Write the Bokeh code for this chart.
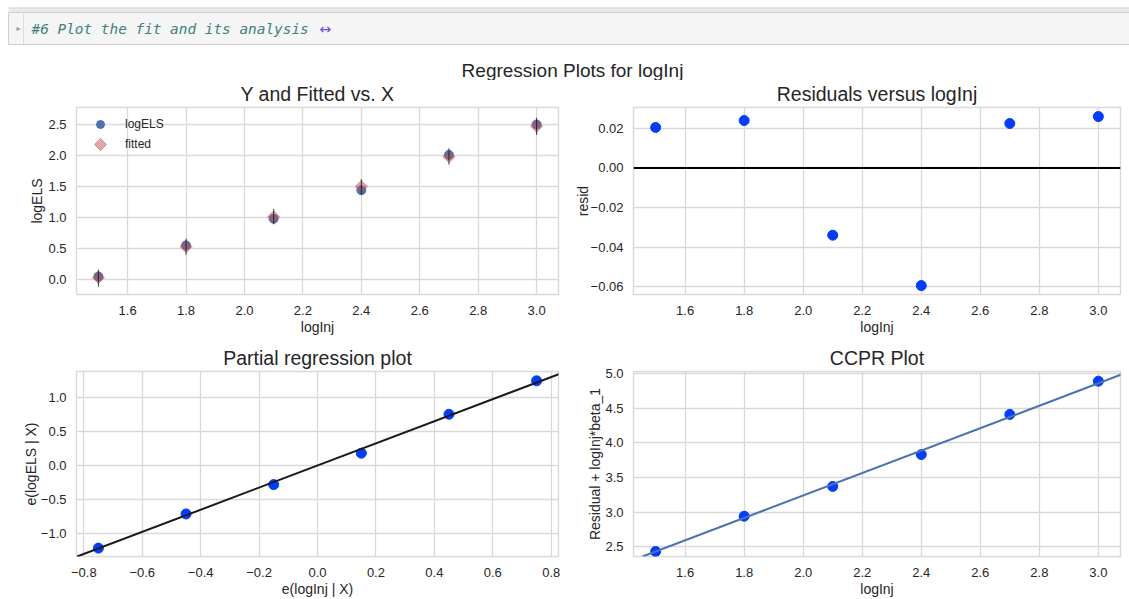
import numpy as np
from bokeh.plotting import figure
from bokeh.models import (Range1d, FixedTicker, Slope, Span, Legend, LegendItem,
                          CustomJSTickFormatter)
from bokeh.layouts import column, row
from bokeh.core.properties import value
from bokeh.embed import file_html
from bokeh.resources import INLINE

# ---------------- data ----------------
logInj = [1.5, 1.8, 2.1, 2.4, 2.7, 3.0]
logELS = [0.05, 0.55, 0.98, 1.44, 2.01, 2.50]
fitted = [0.03, 0.53, 1.01, 1.50, 1.98, 2.47]
pred_low = [-0.12, 0.40, 0.89, 1.37, 1.85, 2.33]
pred_high = [0.16, 0.66, 1.14, 1.62, 2.12, 2.61]
resid = [0.0205, 0.0240, -0.0340, -0.0595, 0.0225, 0.0260]
partial_x = [-0.75, -0.45, -0.15, 0.15, 0.45, 0.75]
partial_y = [-1.21, -0.71, -0.28, 0.18, 0.75, 1.24]
ccpr_y = [2.43, 2.94, 3.37, 3.83, 4.41, 4.89]
beta_1 = 1.62

xticks_inj = [1.6, 1.8, 2.0, 2.2, 2.4, 2.6, 2.8, 3.0]
yticks_els = [0.0, 0.5, 1.0, 1.5, 2.0, 2.5]
yticks_resid = [-0.06, -0.04, -0.02, 0.0, 0.02]
xticks_part = [-0.8, -0.6, -0.4, -0.2, 0.0, 0.2, 0.4, 0.6, 0.8]
yticks_part = [-1.0, -0.5, 0.0, 0.5, 1.0]
yticks_ccpr = [2.5, 3.0, 3.5, 4.0, 4.5, 5.0]

legend_labels = ["logELS", "fitted"]
suptitle = "Regression Plots for logInj"
cell_text = "#6 Plot the fit and its analysis"

# ---------------- styles ----------------
FONT = "Liberation Sans"
TXT = "#262626"
GRID = "#d9d9d9"
BLUE = "#003dff"
SBLUE = "#4C72B0"
SRED = "#C44E52"


def fmt(d):
    return CustomJSTickFormatter(code="return tick.toFixed(%d).replace('-', '\\u2212');" % d)


def make_fig(width, height, bl, br, bt, bb, xr, yr, title, xlabel, ylabel,
             xticks, xd, yticks, yd, ylab_standoff=0):
    p = figure(width=width, height=height, x_range=Range1d(*xr), y_range=Range1d(*yr),
               output_backend="svg", toolbar_location=None, title=title,
               min_border_left=bl, min_border_right=br, min_border_top=bt,
               min_border_bottom=bb)
    p.background_fill_color = "white"
    p.border_fill_color = "white"
    p.outline_line_color = GRID
    p.outline_line_width = 1.4
    p.title.align = "center"
    p.title.vertical_align = "top"
    p.title.text_font = FONT
    p.title.text_font_size = "19.5px"
    p.title.text_font_style = "normal"
    p.title.text_color = TXT
    p.title.standoff = 2
    for ax, ticks, d, lab in ((p.xaxis[0], xticks, xd, xlabel),
                              (p.yaxis[0], yticks, yd, ylabel)):
        ax.ticker = FixedTicker(ticks=ticks)
        ax.formatter = fmt(d)
        ax.axis_label = lab
        ax.axis_line_color = None
        ax.major_tick_line_color = None
        ax.minor_tick_line_color = None
        ax.major_tick_out = 0
        ax.major_tick_in = 0
        ax.minor_tick_out = 0
        ax.minor_tick_in = 0
        ax.major_label_text_font = FONT
        ax.major_label_text_font_size = "13px"
        ax.major_label_text_color = TXT
        ax.axis_label_text_font = FONT
        ax.axis_label_text_font_size = "14px"
        ax.axis_label_text_font_style = "normal"
        ax.axis_label_text_color = TXT
    p.xaxis[0].major_label_standoff = 11
    p.xaxis[0].axis_label_standoff = 1
    p.yaxis[0].major_label_standoff = 10
    p.yaxis[0].axis_label_standoff = ylab_standoff
    p.grid.grid_line_color = GRID
    p.grid.grid_line_width = 1.3
    return p


xr_inj = (1.425, 3.075)

# --- Y and Fitted vs. X ---
TL_W, TL_H = 570, 260
TL_L, TL_R, TL_T, TL_B = 76, 12, 27, 46
tl_xr, tl_yr = xr_inj, (-0.242, 2.774)
tl = make_fig(TL_W, TL_H, TL_L, TL_R, TL_T, TL_B, tl_xr, tl_yr,
              "Y and Fitted vs. X", "logInj", "logELS",
              xticks_inj, 1, yticks_els, 1, 0)
r_obs = tl.scatter(logInj, logELS, size=9, color=SBLUE)
r_fit = tl.scatter(logInj, fitted, marker="square", angle=np.pi / 4, size=8.5,
                   color=SRED, alpha=0.5)
tl.segment(x0=logInj, y0=pred_low, x1=logInj, y1=pred_high,
           line_color="black", line_alpha=0.7, line_width=1)

# legend: the rotated-square key is placed in the frame's top-left corner
fw = TL_W - TL_L - TL_R
fh = TL_H - TL_T - TL_B
def frame_to_data(dx, dy):
    x = tl_xr[0] + dx / fw * (tl_xr[1] - tl_xr[0])
    y = tl_yr[1] - dy / fh * (tl_yr[1] - tl_yr[0])
    return x, y
kx, ky = frame_to_data(24, 37)
tl.scatter([kx], [ky], marker="square", angle=np.pi / 4, size=8.5, color=SRED, alpha=0.5)
dummy = tl.scatter(x=[], y=[], size=0, alpha=0)
leg = Legend(items=[LegendItem(label=legend_labels[0], renderers=[r_obs]),
                    LegendItem(label=legend_labels[1], renderers=[dummy])],
             location="top_left", margin=7, padding=0, spacing=0,
             glyph_width=34, glyph_height=20, label_height=20, label_standoff=8,
             background_fill_alpha=0, border_line_color=None,
             label_text_font=FONT, label_text_font_size="12px",
             label_text_color=TXT)
tl.add_layout(leg)

# --- Residuals versus logInj ---
tr = make_fig(559, 260, 63, 9, 27, 45, xr_inj, (-0.064, 0.0306),
              "Residuals versus logInj", "logInj", "resid",
              xticks_inj, 1, yticks_resid, 2, -3)
tr.scatter(logInj, resid, size=10, color=BLUE)
tr.add_layout(Span(location=0, dimension="width", line_color="black", line_width=2))

# --- Partial regression plot ---
bl = make_fig(570, 259, 76, 12, 31, 42, (-0.825, 0.825), (-1.333, 1.377),
              "Partial regression plot", "e(logInj | X)", "e(logELS | X)",
              xticks_part, 1, yticks_part, 1, -1)
bl.scatter(partial_x, partial_y, size=10, color=BLUE)
bl.add_layout(Slope(gradient=beta_1, y_intercept=0, line_color="#1a1a1a", line_width=2))

# --- CCPR Plot ---
br = make_fig(559, 259, 63, 9, 30, 42, xr_inj, (2.358, 5.03),
              "CCPR Plot", "logInj", "Residual + logInj*beta_1",
              xticks_inj, 1, yticks_ccpr, 1, -1)
br.scatter(logInj, ccpr_y, size=10, color=BLUE)
br.add_layout(Slope(gradient=beta_1, y_intercept=0, line_color=SBLUE, line_width=2))

# --- header: notebook cell + suptitle (page pixel coordinates) ---
h = figure(width=1129, height=80, x_range=Range1d(0, 1129), y_range=Range1d(80, 0),
           output_backend="svg", toolbar_location=None, min_border=0,
           x_axis_type=None, y_axis_type=None)
h.grid.visible = False
h.outline_line_color = None
h.background_fill_color = "white"
h.border_fill_color = "white"
h.quad(left=[8], right=[1129], top=[7], bottom=[12], fill_color="#e9e9e9", line_color=None)
h.segment(x0=[8], y0=[7.5], x1=[1129], y1=[7.5], line_color="#d8d8d8", line_width=1)
h.quad(left=[8], right=[1135], top=[12], bottom=[44], fill_color="#f5f5f5",
       line_color="#cfcfcf", line_width=1)
h.segment(x0=[23], y0=[12], x1=[23], y1=[44], line_color="#dcdcdc", line_width=1)
h.text(x=[18], y=[28], text=["\u25b8"], text_align="center", text_baseline="middle",
       text_font=value("DejaVu Sans"), text_font_size="8px", text_color="#9a9a9a")
h.text(x=[31], y=[28], text=[cell_text], text_align="left", text_baseline="middle",
       text_font=value("DejaVu Sans Mono"), text_font_style="italic",
       text_font_size="14.4px", text_color="#408080")
h.text(x=[319], y=[28], text=["\u2194"], text_align="left", text_baseline="middle",
       text_font=value("DejaVu Sans"), text_font_size="14px", text_color="#5b4df0")
h.text(x=[572], y=[70], text=[suptitle], text_align="center", text_baseline="middle",
       text_font=value(FONT), text_font_size="19px", text_color=TXT)

root = column(h, row(tl, tr), row(bl, br))
try:
    from bokeh.models import GlobalInlineStyleSheet
    root.stylesheets = [GlobalInlineStyleSheet(css="html, body { overflow: hidden; }")]
except Exception:
    pass

open("out.html", "w").write(file_html(root, INLINE))
